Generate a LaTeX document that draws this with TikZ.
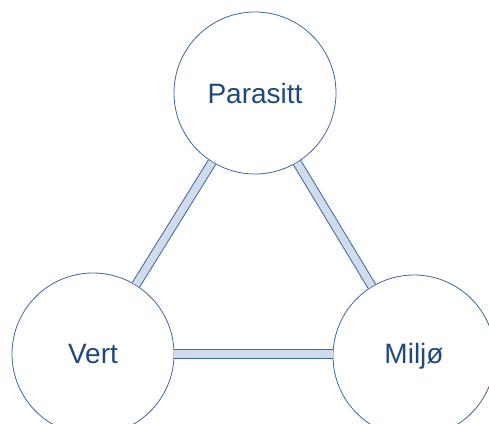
\documentclass[tikz,border=0pt]{standalone}
\usepackage{fontspec}
\setmainfont{Liberation Sans}
\usepackage{xcolor}
\definecolor{ring}{HTML}{41689A}
\definecolor{label}{HTML}{1F497D}
\definecolor{barfill}{HTML}{D0DCEC}
\begin{document}
\begin{tikzpicture}
[
x=1pt, y=1pt,
cell-a/.style={circle, draw=ring, fill=white, line width=0.8pt, minimum size = 162pt, inner sep=0pt, text=label, font=\fontsize{28}{32}\selectfont},
link-a/.style={draw=ring, line width=1pt, double=barfill, double distance=7.5pt}
]
\useasboundingbox (0,0) rectangle (489,423);
\node (cell-par) [cell-a] at (255,330) {Parasitt};
\node (cell-ver) [cell-a] at (93,69)   {Vert};
\node (cell-mil) [cell-a] at (414,67)  {Milj\o};
\draw [link-a] (cell-par) -- (cell-ver);
\draw [link-a] (cell-par) -- (cell-mil);
\draw [link-a] (cell-ver.east) -- (cell-mil.west |- cell-ver.east);
\end{tikzpicture}
\end{document}
